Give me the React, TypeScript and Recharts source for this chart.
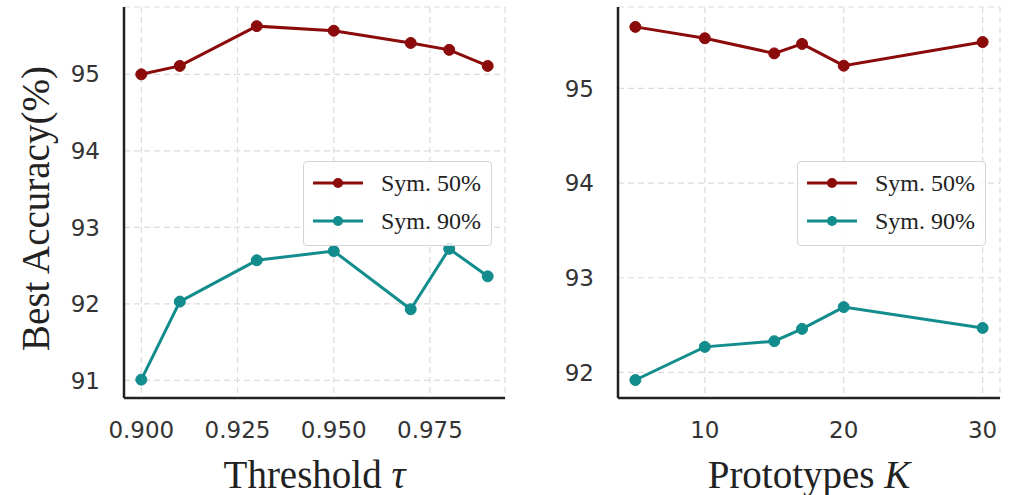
import React from "react";
import { CartesianGrid, Legend, Line, LineChart, XAxis, YAxis } from "recharts";

const tauValues = [0.9, 0.91, 0.93, 0.95, 0.97, 0.98, 0.99];
const tauSym50 = [95.0, 95.11, 95.63, 95.57, 95.41, 95.32, 95.11];
const tauSym90 = [91.01, 92.03, 92.57, 92.69, 91.93, 92.72, 92.36];
const tauTicks = [0.9, 0.925, 0.95, 0.975];
const tauYTicks = [91, 92, 93, 94, 95];

const kValues = [5, 10, 15, 17, 20, 30];
const kSym50 = [95.65, 95.53, 95.37, 95.47, 95.24, 95.49];
const kSym90 = [91.92, 92.27, 92.33, 92.46, 92.69, 92.47];
const kTicks = [10, 20, 30];
const kYTicks = [92, 93, 94, 95];

const RED = "#8b0a0a";
const TEAL = "#128c8c";
const TICK = { fontFamily: "DejaVu Sans", fontSize: 23, fill: "#333" };
const SERIF = "Liberation Serif";

const LegendBox = (props: any) => {
  const { payload } = props;
  return (
    <div
      style={{
        width: 187,
        height: 81,
        border: "1px solid #d4d4d4",
        borderRadius: 4,
        background: "rgba(255,255,255,0.85)",
        paddingTop: 2,
        boxSizing: "content-box",
      }}
    >
      {(payload || []).map((p: any) => (
        <div key={p.value} style={{ display: "flex", alignItems: "center", height: 38 }}>
          <svg width={70} height={38} style={{ flex: "none" }}>
            <line x1={9} x2={59} y1={19} y2={19} stroke={p.color} strokeWidth={3} />
            <circle cx={34} cy={19} r={5} fill={p.color} />
          </svg>
          <span style={{ fontFamily: SERIF, fontSize: 24, color: "#222", marginLeft: 7 }}>{p.value}</span>
        </div>
      ))}
    </div>
  );
};

const XTitle = (props: any) => {
  const { viewBox, text, sym } = props;
  const cx = viewBox.x + viewBox.width / 2;
  return (
    <text x={cx} y={488} textAnchor="middle" fontFamily={SERIF} fontSize={39} fill="#222">
      {text}
      <tspan fontStyle="italic">{sym}</tspan>
    </text>
  );
};

const YTitle = (props: any) => {
  const { viewBox } = props;
  const cy = viewBox.y + viewBox.height / 2 + 6;
  return (
    <text
      x={49}
      y={cy}
      transform={`rotate(-90, 49, ${cy})`}
      textAnchor="middle"
      fontFamily={SERIF}
      fontSize={39}
      fill="#222"
    >
      Best Accuracy(%)
    </text>
  );
};

interface PanelProps {
  xs: number[];
  s50: number[];
  s90: number[];
  xTicks: number[];
  yTicks: number[];
  xDomain: [number, number];
  yDomain: [number, number];
  width: number;
  yAxisWidth: number;
  right: number;
  legendLeft: number;
  xLabel: string;
  xSym: string;
  showYTitle: boolean;
  fmt: (v: number) => string;
}

const Panel = (p: PanelProps) => {
  const data = p.xs.map((x, i) => ({ x, s50: p.s50[i], s90: p.s90[i] }));
  return (
    <LineChart width={p.width} height={495} data={data} margin={{ top: 7, right: p.right, bottom: 0, left: 0 }}>
      <CartesianGrid stroke="#dcdcdc" strokeDasharray="6 4" strokeWidth={1.2} />
      <XAxis
        dataKey="x"
        type="number"
        domain={p.xDomain}
        ticks={p.xTicks}
        allowDataOverflow
        height={97}
        tickLine={false}
        tickSize={0}
        tickMargin={24}
        tick={TICK}
        tickFormatter={p.fmt}
        axisLine={{ stroke: "#222", strokeWidth: 2.5 }}
        label={<XTitle text={p.xLabel} sym={p.xSym} />}
      />
      <YAxis
        type="number"
        domain={p.yDomain}
        ticks={p.yTicks}
        allowDataOverflow
        width={p.yAxisWidth}
        tickLine={false}
        tickSize={0}
        tickMargin={24}
        tick={TICK}
        axisLine={{ stroke: "#222", strokeWidth: 2.5 }}
        label={p.showYTitle ? <YTitle /> : undefined}
      />
      <Legend
        layout="vertical"
        align="center"
        verticalAlign="middle"
        content={<LegendBox />}
        wrapperStyle={{ left: p.legendLeft, top: 161, width: "auto" }}
      />
      <Line
        dataKey="s50"
        name="Sym. 50%"
        stroke={RED}
        strokeWidth={3}
        dot={{ r: 5.5, fill: RED, stroke: RED, strokeWidth: 1 }}
        isAnimationActive={false}
      />
      <Line
        dataKey="s90"
        name="Sym. 90%"
        stroke={TEAL}
        strokeWidth={3}
        dot={{ r: 5.5, fill: TEAL, stroke: TEAL, strokeWidth: 1 }}
        isAnimationActive={false}
      />
    </LineChart>
  );
};

export default function App() {
  return (
    <div style={{ position: "absolute", left: 0, top: 0, width: 1011, height: 495, background: "#fff" }}>
      <div style={{ position: "absolute", left: 0, top: 0 }}>
        <Panel
          xs={tauValues}
          s50={tauSym50}
          s90={tauSym90}
          xTicks={tauTicks}
          yTicks={tauYTicks}
          xDomain={[0.8955, 0.9945]}
          yDomain={[90.77, 95.88]}
          width={520}
          yAxisWidth={124}
          right={15}
          legendLeft={303}
          xLabel="Threshold "
          xSym="τ"
          showYTitle
          fmt={(v) => v.toFixed(3)}
        />
      </div>
      <div style={{ position: "absolute", left: 520, top: 0 }}>
        <Panel
          xs={kValues}
          s50={kSym50}
          s90={kSym90}
          xTicks={kTicks}
          yTicks={kYTicks}
          xDomain={[3.75, 31.25]}
          yDomain={[91.73, 95.86]}
          width={491}
          yAxisWidth={98}
          right={11}
          legendLeft={277}
          xLabel="Prototypes "
          xSym="K"
          showYTitle={false}
          fmt={(v) => String(v)}
        />
      </div>
    </div>
  );
}
